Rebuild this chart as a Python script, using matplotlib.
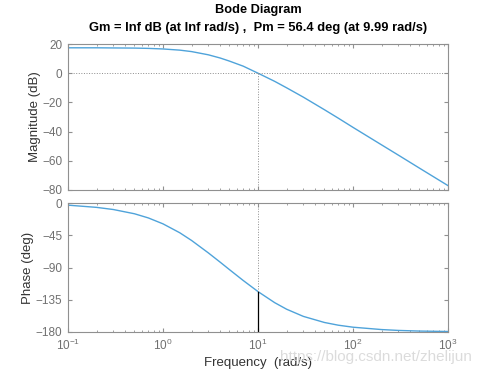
import matplotlib
matplotlib.use("Agg")
import matplotlib.pyplot as plt
import numpy as np

# values
freq = [0.1, 0.2, 0.3, 0.5, 0.7, 1, 1.5, 2, 3, 4, 5, 7, 10, 15, 20, 30,
        50, 70, 100, 200, 300, 500, 1000]
mag_db = [17.4, 17.4, 17.3, 17.2, 17.0, 16.6, 15.8, 14.8, 12.6, 10.4, 8.3,
          4.8, 0.0, -5.6, -10.0, -16.4, -25.0, -30.8, -37.1, -49.1, -56.1,
          -65.0, -77.0]
phase_deg = [-3.0, -6.1, -9.1, -15.0, -20.8, -29.1, -41.5, -52.3, -69.6,
             -82.6, -92.9, -108.2, -123.6, -139.1, -148.2, -158.2, -166.7,
             -170.5, -173.3, -176.6, -177.8, -178.7, -179.3]
wc = 9.99
pm_phase = -123.6
mag_ticks = [20, 0, -20, -40, -60, -80]
phase_ticks = [0, -45, -90, -135, -180]
title1 = "Bode Diagram"
title2 = "Gm = Inf dB (at Inf rad/s) ,  Pm = 56.4 deg (at 9.99 rad/s)"

plt.rcParams['font.family'] = ['Liberation Sans', 'DejaVu Sans']

W, H = 487, 376
fig = plt.figure(figsize=(W/100, H/100), dpi=100)
L, R = 68, 448
ax1 = fig.add_axes([L/W, 1-190/H, (R-L)/W, 146/H])
ax2 = fig.add_axes([L/W, 1-332/H, (R-L)/W, 129/H])

blue = '#4fa3da'
spine = '#909090'
tcol = '#707070'

ax1.semilogx(freq, mag_db, color=blue, lw=1.0)
ax2.semilogx(freq, phase_deg, color=blue, lw=1.0)

# margin markers
ax1.axhline(0, color='#8c8c8c', ls=':', lw=0.7)
ax1.plot([wc, wc], [-80, 0], color='#8c8c8c', ls=':', lw=0.7)
ax2.axhline(-180, color='#8c8c8c', ls=':', lw=0.7)
ax2.plot([wc, wc], [0, pm_phase], color='#8c8c8c', ls=':', lw=0.7)
ax2.plot([wc, wc], [pm_phase, -180], color='black', lw=0.9)

for ax in (ax1, ax2):
    ax.set_xlim(0.1, 1000)
    for s in ax.spines.values():
        s.set_color(spine)
        s.set_linewidth(0.8)
    ax.tick_params(which='both', direction='in', top=True, right=True,
                   colors=spine, labelcolor=tcol, labelsize=8.5, pad=4)
    ax.tick_params(which='major', length=3)
    ax.tick_params(which='minor', length=1.6)

ax1.set_ylim(-80, 20)
ax1.set_yticks(mag_ticks)
ax1.tick_params(labelbottom=False)
ax2.set_ylim(-180, 0)
ax2.set_yticks(phase_ticks)
ax2.set_xticks([0.1, 1, 10, 100, 1000])

ax1.set_ylabel('Magnitude (dB)', fontsize=9.5, color='#333333')
ax2.set_ylabel('Phase (deg)', fontsize=9.5, color='#333333')
ax2.set_xlabel('Frequency  (rad/s)', fontsize=9.5, color='#333333')
ax1.yaxis.set_label_coords(-0.071, 0.5)
ax2.yaxis.set_label_coords(-0.089, 0.5)
ax2.xaxis.set_label_coords(0.5, -0.19)
ax2.xaxis.label.set_va('top')

cx = (L+R)/2/W
fig.text(cx, 1-10/H, title1, ha='center', va='center', fontsize=9.2,
         fontweight='bold')
fig.text(cx, 1-28/H, title2, ha='center', va='center', fontsize=9.3,
         fontweight='bold')

fig.text(0.575, 1-357/H, 'https://blog.csdn.net/zhelijun', fontsize=11,
         color='#d8d8d8', va='center', ha='left', alpha=0.9)

fig.savefig('out.png', dpi=100)
